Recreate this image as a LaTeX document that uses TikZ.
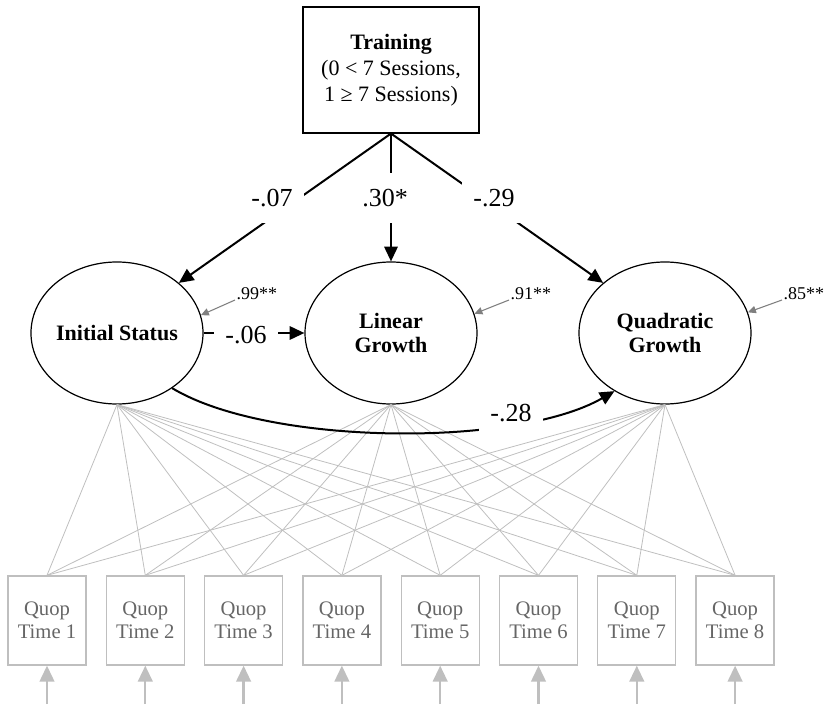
\documentclass[tikz,border=0pt]{standalone}
\usepackage{fontspec}
\setmainfont{Liberation Serif}
\usetikzlibrary{shapes.geometric}
\usetikzlibrary{arrows.meta}
\definecolor{loadgrey}{HTML}{BFBFBF}
\definecolor{textgrey}{HTML}{666666}
\definecolor{resgrey}{HTML}{7F7F7F}
\newcommand{\coefsize}{\fontsize{19.5}{22}\selectfont}
\tikzset{
	trainbox/.style={draw, line width=0.8pt, minimum width=132pt, minimum height=94.5pt, align=center, font=\fontsize{16.5}{19.5}\selectfont},
	latent/.style={ellipse, draw, line width=0.9pt, minimum width=129pt, minimum height=106.5pt, inner sep=0pt, align=center, font=\fontsize{16.5}{18}\selectfont\bfseries},
	obsbox/.style={draw=loadgrey, line width=1pt, text=textgrey, minimum width=58.5pt, minimum height=66.75pt, align=center, font=\fontsize{15.5}{17.25}\selectfont},
	coef/.style={fill=white, minimum width=48pt, minimum height=37.5pt, inner sep=0pt, font=\coefsize},
	reslab/.style={inner sep=1pt, font=\fontsize{13.5}{15}\selectfont},
	regarrow/.style={line width=1.5pt, -{Triangle[length=11pt,width=10pt]}},
	resarrow/.style={draw=resgrey, line width=0.8pt, -{Triangle[length=6pt,width=5.5pt]}},
	loadline/.style={draw=loadgrey, line width=0.6pt},
	errarrow/.style={draw=loadgrey, line width=1.7pt, -{Triangle[length=12pt,width=11pt]}}
}

\begin{document}
\begin{tikzpicture}[x=0.75pt,y=-0.75pt]
	\useasboundingbox (0,0) rectangle (826,706);
	% predictor
	\node[trainbox] (tr) at (391,70) {\textbf{Training}\\(0 < 7 Sessions,\\1 ≥ 7 Sessions)};
	% growth factors
	\node[latent] (is) at (117,333) {Initial Status};
	\node[latent] (lg) at (391,333) {Linear\\Growth};
	\node[latent] (qg) at (665,333) {Quadratic\\Growth};
	% indicators and their errors
	\foreach \i in {1,...,8}{
		\node[obsbox] (y\i) at ({47+98.3*(\i-1)},620.5) {Quop\\Time \i};
		\coordinate (e\i) at ({47+98.3*(\i-1)},704);
		\draw[errarrow] (e\i) -- (y\i.south);
		\foreach \f in {is,lg,qg}
			\draw[loadline] (y\i.north) -- (\f.south);
	}
	% regressions
	\draw[regarrow] (tr.south) -- (is.39);
	\draw[regarrow] (tr.south) -- (lg.north);
	\draw[regarrow] (tr.south) -- (qg.141);
	\draw[regarrow] (is) -- (lg);
	\draw[regarrow] (is.-45) to[out=-31,in=210,looseness=0.65] (qg.229);
	\node[coef] (c1) at (272,198) {-.07};
	\node[coef] (c2) at (385,198) {.30*};
	\node[coef] (c3) at (494,198) {-.29};
	\node[coef] (c4) at (246,335) {-.06};
	\node[coef] (c5) at (511,413) {-.28};
	% residual variances
	\node[reslab, anchor=base west] (r1) at (235,300) {.99**};
	\node[reslab, anchor=base west] (r2) at (509,300) {.91**};
	\node[reslab, anchor=base west] (r3) at (782,300) {.85**};
	\draw[resarrow] (r1.base west) -- (is.12);
	\draw[resarrow] (r2.base west) -- (lg.13);
	\draw[resarrow] (r3.base west) -- (qg.14);
\end{tikzpicture}
\end{document}
